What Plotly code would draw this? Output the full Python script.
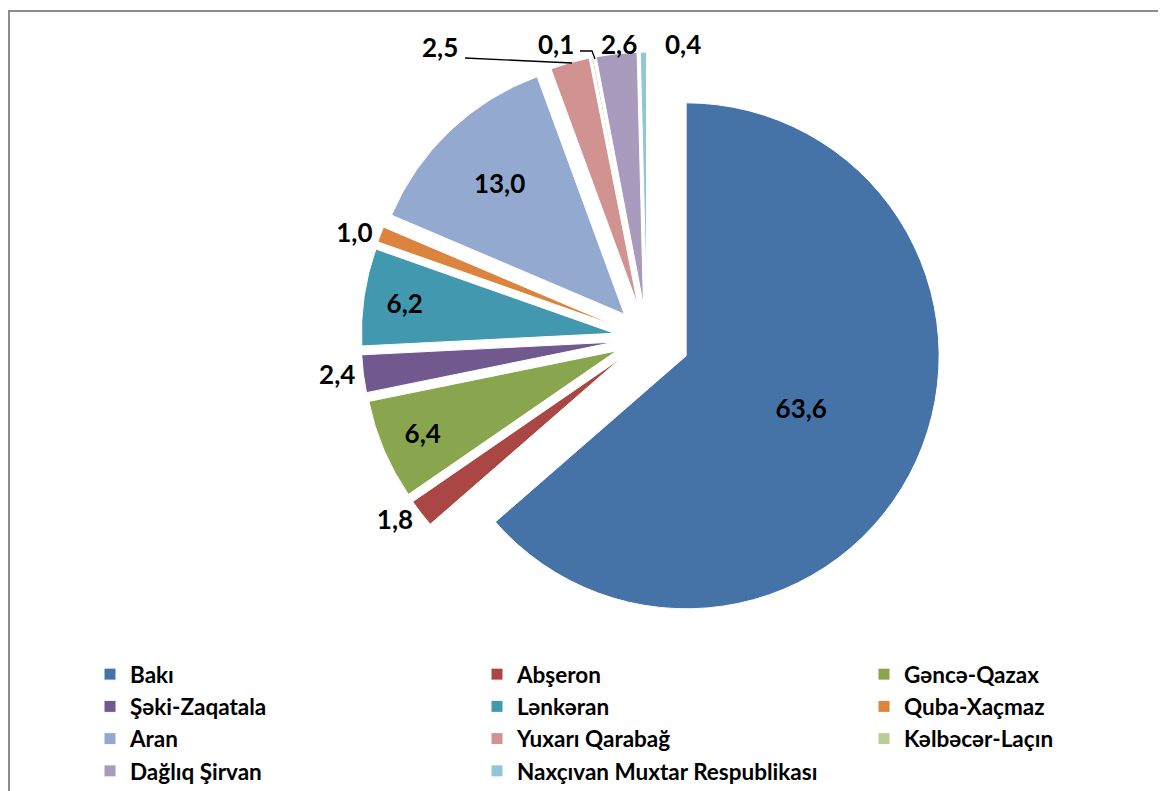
import plotly.graph_objects as go

regions = ["Bakı", "Abşeron", "Gəncə-Qazax", "Şəki-Zaqatala", "Lənkəran", "Quba-Xaçmaz",
           "Aran", "Yuxarı Qarabağ", "Kəlbəcər-Laçın", "Dağlıq Şirvan", "Naxçıvan Muxtar Respublikası"]
shares = [63.6, 1.8, 6.4, 2.4, 6.2, 1.0, 13.0, 2.5, 0.1, 2.6, 0.4]
colors = ["#4572A7", "#AA4643", "#89A54E", "#71588F", "#4198AF", "#DB843D",
          "#93A9CF", "#D19392", "#B9CD96", "#A99BBD", "#92C5D6"]
# labels of the four crowded top slices are written as annotations
label_pos = ["inside", "outside", "inside", "outside", "inside", "outside",
             "inside", "none", "none", "none", "none"]
explode = [0.17, 0.13, 0.13, 0.13, 0.13, 0.13, 0.13, 0.13, 0.13, 0.13, 0.13]

# page body has an 8px margin; figure is sized to fill the rest of the window
OFF = 8
W, H = 1166 - OFF, 791 - OFF


def px(x):
    return (x - OFF) / W


def py(y):
    return 1 - (y - OFF) / H


FONT = "Lato, 'Liberation Sans', Arial, sans-serif"
LBL = dict(family=FONT, size=26, color="black", weight="bold")


def fmt(v):
    return f"{v:.1f}".replace(".", ",")


fig = go.Figure(go.Pie(
    labels=regions,
    values=shares,
    sort=False,
    direction="clockwise",
    rotation=0,
    pull=explode,
    marker=dict(colors=colors, line=dict(color="white", width=1)),
    texttemplate="%{value:.1f}",
    textposition=label_pos,
    insidetextorientation="horizontal",
    textfont=LBL, outsidetextfont=LBL, insidetextfont=LBL,
    hoverinfo="skip",
    domain=dict(x=[px(351), px(943)], y=[py(634), py(42)]),
))

# crowded top labels: (slice index, centre x, centre y) in page pixels
top_labels = [(7, 440, 47), (8, 556, 44), (9, 619, 44), (10, 683, 44)]
annotations = [dict(text=fmt(shares[i]), x=px(x), y=py(y), xref="paper", yref="paper",
                    showarrow=False, font=LBL, xanchor="center", yanchor="middle")
               for i, x, y in top_labels]

leader = dict(color="black", width=1.3)
shapes = [
    dict(type="rect", xref="paper", yref="paper",
         x0=px(9), x1=1.02, y0=-0.02, y1=py(11),
         line=dict(color="#8C8C8C", width=2), fillcolor="rgba(0,0,0,0)", layer="below"),
    dict(type="path", xref="paper", yref="paper",
         path=f"M{px(465)},{py(58)} L{px(572)},{py(63)}", line=leader),
    dict(type="path", xref="paper", yref="paper",
         path=f"M{px(580)},{py(51)} L{px(592)},{py(51)} L{px(595)},{py(59)}", line=leader),
]

fig.update_layout(
    width=W, height=H,
    margin=dict(l=0, r=0, t=0, b=0, autoexpand=False),
    paper_bgcolor="white",
    plot_bgcolor="white",
    separators=",.",
    showlegend=True,
    legend=dict(
        orientation="h",
        x=px(90), xanchor="left",
        y=py(653), yanchor="top",
        font=dict(family=FONT, size=22.5, color="black", weight="bold"),
        entrywidth=342, entrywidthmode="pixels",
        bgcolor="rgba(0,0,0,0)",
    ),
    annotations=annotations,
    shapes=shapes,
)

fig.write_html("out.html")
